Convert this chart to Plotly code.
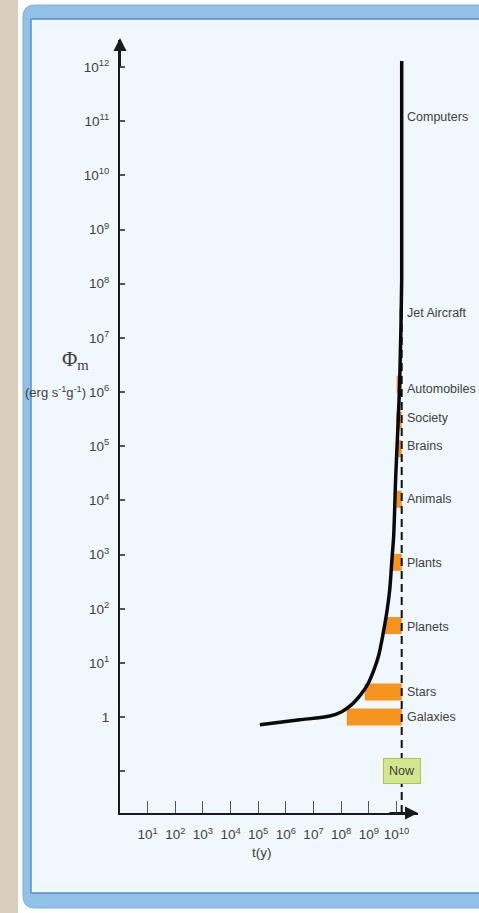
import numpy as np
import plotly.graph_objects as go

# ---------------- data ----------------
# main curve: free-energy rate density vs time
curve_t = [1.15e5, 3.2e6, 3.9e7, 1.05e8, 2.4e8, 5.1e8, 9.1e8, 1.5e9, 2.3e9, 3.16e9,
           4.47e9, 5.75e9, 6.76e9, 7.94e9, 8.7e9, 9.33e9, 1.12e10, 1.32e10, 1.55e10, 1.55e10]
curve_phi = [0.72, 0.89, 1.05, 1.26, 1.7, 2.6, 4.0, 7.2, 14, 31,
             85, 230, 720, 2200, 7800, 2.5e4, 2.0e5, 1.7e6, 1.2e8, 1.3e12]

now_t = 1.55e10

# categories: label, phi value of label, phi of bar, bar start time
categories = ["Computers", "Jet Aircraft", "Automobiles", "Society", "Brains",
              "Animals", "Plants", "Planets", "Stars", "Galaxies"]
label_phi = [1.2e11, 2.9e7, 1.15e6, 3.3e5, 1.0e5, 1.05e4, 690, 47, 2.95, 1.0]
bar_phi = [None, 2.9e7, 1.4e6, 3.0e5, 9.0e4, 1.05e4, 720, 49, 2.9, 1.0]
bar_start = [None, 1.32e10, 1.02e10, 9.8e9, 9.6e9, 1.0e10, 6.8e9, 3.8e9, 7.1e8, 1.6e8]

x_tickvals = [1e1, 1e2, 1e3, 1e4, 1e5, 1e6, 1e7, 1e8, 1e9, 1e10]
x_ticktext = ["10<sup>1</sup>", "10<sup>2</sup>", "10<sup>3</sup>", "10<sup>4</sup>",
              "10<sup>5</sup>", "10<sup>6</sup>", "10<sup>7</sup>", "10<sup>8</sup>",
              "10<sup>9</sup>", "10<sup>10</sup>"]
y_tickvals = [1e-1, 1, 1e1, 1e2, 1e3, 1e4, 1e5, 1e6, 1e7, 1e8, 1e9, 1e10, 1e11, 1e12]
y_ticktext = ["", "1", "10<sup>1</sup>", "10<sup>2</sup>", "10<sup>3</sup>", "10<sup>4</sup>",
              "10<sup>5</sup>", "10<sup>6</sup>", "10<sup>7</sup>", "10<sup>8</sup>",
              "10<sup>9</sup>", "10<sup>10</sup>", "10<sup>11</sup>", "10<sup>12</sup>"]

# ---------------- layout geometry ----------------
W, H = 479, 913
ML, MR, MT, MB = 120, 61, 40, 100
PW, PH = W - ML - MR, H - MT - MB
X_RANGE = [0, 10.78]
Y_RANGE = [-1.77, 12.5]


def px(x):
    return (x - ML) / PW


def py(y):
    return (H - MB - y) / PH


FONT = "Liberation Sans, Arial, sans-serif"
TXT = "#404040"
ORANGE = "#F7941E"

fig = go.Figure()

# orange bars (from start of phenomenon to now)
for name, ph, st in zip(categories, bar_phi, bar_start):
    if st is None:
        continue
    is_jet = name == "Jet Aircraft"
    fig.add_trace(go.Scatter(
        x=[st, now_t], y=[ph, ph], mode="lines",
        line=dict(color="#111111" if is_jet else ORANGE, width=8 if is_jet else 17),
        hoverinfo="skip", showlegend=False))

# dashed "now" line
fig.add_trace(go.Scatter(
    x=[now_t, now_t], y=[10 ** Y_RANGE[0], 1e8], mode="lines",
    line=dict(color="#111111", width=2, dash="8px,5px"),
    hoverinfo="skip", showlegend=False))

# main curve
fig.add_trace(go.Scatter(
    x=curve_t, y=curve_phi, mode="lines",
    line=dict(color="#0a0a0a", width=3.5, shape="spline", smoothing=0.7),
    hoverinfo="skip", showlegend=False))

# ---------------- background shapes ----------------
shapes = []
shapes.append(dict(type="rect", xref="paper", yref="paper", layer="below",
                   x0=px(0), x1=px(18), y0=py(H), y1=py(0),
                   fillcolor="#d7cebf", line=dict(width=0)))
# outer blue frame (rounded)
r = 12
x0, x1, y0, y1 = px(23), px(520), py(908), py(5)
rx, ry = r / PW, r / PH
path = (f"M {x0 + rx},{y1} L {x1},{y1} L {x1},{y0} L {x0 + rx},{y0} "
        f"Q {x0},{y0} {x0},{y0 + ry} L {x0},{y1 - ry} Q {x0},{y1} {x0 + rx},{y1} Z")
shapes.append(dict(type="path", xref="paper", yref="paper", layer="below", path=path,
                   fillcolor="#92c1e8", line=dict(color="#7fb0dc", width=1)))
# inner light panel
shapes.append(dict(type="rect", xref="paper", yref="paper", layer="below",
                   x0=px(31), x1=px(520), y0=py(893), y1=py(19),
                   fillcolor="#f1f8fd", line=dict(color="#5a8fc6", width=1.5)))

# ---------------- annotations ----------------
ann = []
# axis arrows
ann.append(dict(xref="paper", yref="paper", x=0, y=1 + 2 / PH, ax=0, ay=30, text="",
                showarrow=True, arrowhead=2, arrowsize=1.3, arrowwidth=2, arrowcolor="#1a1a1a"))
ann.append(dict(xref="paper", yref="paper", x=1, y=0, ax=-30, ay=0, text="",
                showarrow=True, arrowhead=2, arrowsize=1.3, arrowwidth=2, arrowcolor="#1a1a1a"))
# category labels
for name, ph in zip(categories, label_phi):
    ann.append(dict(xref="x", yref="y", x=np.log10(now_t), y=np.log10(ph), text=name,
                    xanchor="left", yanchor="middle", xshift=3, showarrow=False,
                    font=dict(family=FONT, size=12.5, color=TXT)))
# Now box
ann.append(dict(xref="x", yref="y", x=np.log10(now_t), y=-1, text="Now", showarrow=False,
                bgcolor="#d4e78e", bordercolor="#a9c45a", borderwidth=1, borderpad=5,
                font=dict(family=FONT, size=12.5, color=TXT)))
# axis titles
ann.append(dict(xref="paper", yref="paper", x=px(262), y=py(862), text="t(y)", showarrow=False,
                font=dict(family=FONT, size=13.5, color=TXT)))
ann.append(dict(xref="paper", yref="paper", x=px(60), y=py(360), text="Φ<sub>m</sub>",
                showarrow=False, font=dict(family="Liberation Serif, serif", size=21, color=TXT)))
ann.append(dict(xref="paper", yref="y", x=px(88), y=6, text="(erg s<sup>-1</sup>g<sup>-1</sup>)",
                xanchor="right", showarrow=False, font=dict(family=FONT, size=13, color=TXT)))

fig.update_layout(
    width=W, height=H, autosize=False,
    margin=dict(l=ML, r=MR, t=MT, b=MB, pad=0),
    paper_bgcolor="#ffffff", plot_bgcolor="rgba(0,0,0,0)",
    shapes=shapes, annotations=ann, showlegend=False,
    font=dict(family=FONT, size=12, color=TXT),
)
fig.update_xaxes(type="log", range=X_RANGE, tickvals=x_tickvals, ticktext=x_ticktext,
                 ticks="inside", ticklen=12, tickwidth=1, tickcolor="#555555",
                 showline=True, linewidth=2, linecolor="#1a1a1a", showgrid=False,
                 zeroline=False, ticklabelstandoff=8,
                 tickfont=dict(family=FONT, size=13.5, color=TXT))
fig.update_yaxes(type="log", range=Y_RANGE, tickvals=y_tickvals, ticktext=y_ticktext,
                 ticks="inside", ticklen=5, tickwidth=1.5, tickcolor="#555555",
                 showline=True, linewidth=2, linecolor="#1a1a1a", showgrid=False,
                 zeroline=False, ticklabelstandoff=6,
                 tickfont=dict(family=FONT, size=13.5, color=TXT))

fig.write_html("out.html")
